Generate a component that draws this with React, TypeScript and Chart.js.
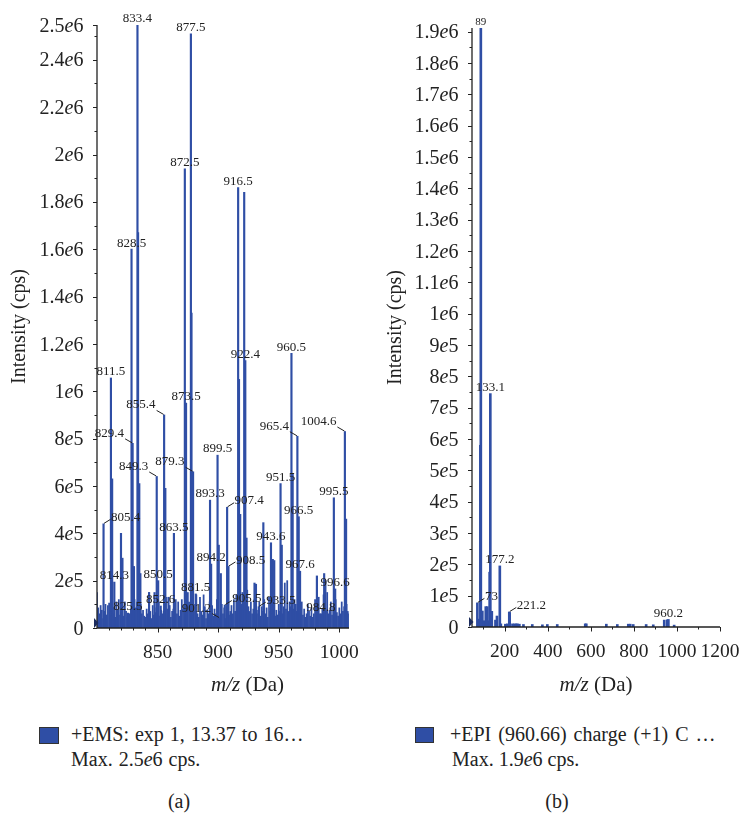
import React, { useEffect, useRef } from 'react';
import { Chart, registerables } from 'chart.js';

Chart.register(...registerables);

const SERIF = '"Liberation Serif", "Times New Roman", serif';
const BAR_COLOR = '#2f4ea5';
const INK = '#222222';

// ---------- Panel (a): +EMS spectrum ----------
// background signal, one value per m/z unit from 800 to 1008, in thousands of cps
const emsNoiseStartMz = 800;
const emsNoiseK = [
  150, 85, 60, 95, 75, 40, 70, 100, 55, 95,
  105, 70, 50, 60, 85, 45, 110, 75, 120, 55,
  65, 90, 50, 110, 70, 45, 60, 60, 80, 70,
  90, 120, 85, 110, 95, 140, 100, 60, 75, 50,
  45, 80, 60, 150, 70, 40, 95, 55, 65, 85,
  60, 110, 50, 75, 60, 70, 90, 130, 80, 60,
  95, 45, 70, 80, 55, 120, 60, 110, 50, 75,
  120, 80, 100, 130, 90, 150, 110, 95, 120, 80,
  100, 70, 140, 60, 45, 130, 70, 55, 140, 90,
  40, 75, 60, 110, 65, 95, 50, 80, 60, 120,
  70, 35, 50, 100, 60, 85, 40, 90, 110, 55,
  70, 95, 60, 120, 70, 140, 110, 160, 130, 100,
  150, 120, 140, 110, 160, 90, 70, 110, 60, 80,
  120, 100, 60, 75, 110, 50, 90, 70, 120, 60,
  85, 45, 130, 70, 100, 60, 95, 50, 75, 55,
  100, 70, 120, 60, 90, 190, 80, 200, 70, 110,
  90, 140, 80, 120, 100, 70, 130, 90, 60, 110,
  55, 80, 45, 60, 100, 70, 50, 85, 45, 60,
  120, 90, 70, 130, 60, 55, 80, 140, 90, 70,
  150, 60, 75, 110, 55, 90, 80, 120, 65, 50,
  85, 60, 110, 70, 90, 80, 100, 70, 60,
];

// peaks: [m/z, intensity in thousands of cps]
const emsPeaks: [number, number][] = [
  [805.4, 440], [811.5, 1056], [812.5, 630], [814.3, 194], [819.8, 400], [821.0, 295],
  [825.5, 63], [828.5, 1600], [829.4, 780], [830.5, 260], [833.4, 2547], [833.9, 1670],
  [834.9, 610], [835.8, 230], [843.0, 150], [847.5, 150], [849.3, 640], [850.5, 200],
  [852.6, 93], [855.4, 900], [856.4, 590], [859.0, 130], [863.5, 400], [872.5, 1940],
  [873.5, 950], [877.5, 2510], [878.0, 1330], [879.3, 660], [881.5, 144], [893.3, 540],
  [894.2, 270], [899.5, 730], [900.5, 350], [901.2, 42], [902.2, 230], [905.5, 97],
  [907.4, 510], [908.5, 260], [916.5, 1860], [917.2, 1050], [918.2, 480], [921.5, 1840],
  [922.4, 1130], [923.4, 380], [930.0, 190], [931.2, 185], [933.5, 90], [937.3, 445],
  [943.6, 360], [945.1, 290], [946.3, 285], [951.5, 610], [952.5, 350], [960.5, 1160],
  [961.5, 650], [965.4, 810], [966.5, 470], [967.6, 240], [981.5, 220], [984.8, 60],
  [987.5, 230], [988.5, 200], [995.5, 550], [996.6, 165], [1004.6, 830], [1005.6, 460],
];

const emsPeakLabels = [
  '833.4', '877.5', '872.5', '916.5', '828.5', '922.4', '960.5', '811.5', '873.5', '855.4',
  '1004.6', '965.4', '829.4', '899.5', '849.3', '879.3', '951.5', '893.3', '995.5', '907.4',
  '966.5', '805.4', '863.5', '943.6', '894.2', '908.5', '967.6', '814.3', '850.5', '996.6',
  '881.5', '852.6', '905.5', '933.5', '825.5', '984.8', '901.2',
];

const emsXMin = 800;
const emsXMax = 1008;
const emsYMax = 2547000;
const emsYTickValues = [0, 2e5, 4e5, 6e5, 8e5, 1e6, 1.2e6, 1.4e6, 1.6e6, 1.8e6, 2e6, 2.2e6, 2.4e6, 2547000];
const emsYTickLabels = ['0', '2e5', '4e5', '6e5', '8e5', '1e6', '1.2e6', '1.4e6', '1.6e6', '1.8e6', '2e6', '2.2e6', '2.4e6', '2.5e6'];
const emsYMinorTicks = [1e5, 3e5, 5e5, 7e5, 9e5, 1.1e6, 1.3e6, 1.5e6, 1.7e6, 1.9e6, 2.1e6, 2.3e6, 2.5e6];
const emsXTickValues = [850, 900, 950, 1000];
const emsXTickLabels = ['850', '900', '950', '1000'];
const emsXMinorTicks = [810, 820, 830, 840, 860, 870, 880, 890, 910, 920, 930, 940, 960, 970, 980, 990];

// ---------- Panel (b): +EPI (960.66) spectrum ----------
// peaks: [m/z, intensity in cps]
const epiPeaks: [number, number][] = [
  [73, 77000], [80, 25000], [87, 580000], [89, 1912000], [96, 51000], [104, 20000],
  [112, 65000], [119, 65000], [127, 20000], [130, 175000], [133.1, 745000], [140, 50000],
  [157, 22000], [164, 35000], [177.2, 195000], [182, 10000], [203, 9000], [212, 10000],
  [221.2, 48000], [223, 46000], [236, 10000], [245, 10000], [253, 10000], [259, 10000],
  [268, 9000], [287, 8000], [328, 8000], [375, 7000], [398, 8000], [444, 8000],
  [574, 10000], [579, 10000], [672, 9000], [723, 8000], [774, 9000], [783, 9000],
  [797, 8000], [857, 8000], [890, 7000], [941, 22000], [955, 23000], [960.2, 24000],
  [987, 6000],
];

const epiPeakLabels = ['89', '133.1', '177.2', '73', '221.2', '960.2'];

const epiXMin = 48;
const epiXMax = 1200;
const epiYMax = 1912000;
const epiYTickValues = [
  0, 1e5, 2e5, 3e5, 4e5, 5e5, 6e5, 7e5, 8e5, 9e5,
  1e6, 1.1e6, 1.2e6, 1.3e6, 1.4e6, 1.5e6, 1.6e6, 1.7e6, 1.8e6, 1.9e6,
];
const epiYTickLabels = [
  '0', '1e5', '2e5', '3e5', '4e5', '5e5', '6e5', '7e5', '8e5', '9e5',
  '1e6', '1.1e6', '1.2e6', '1.3e6', '1.4e6', '1.5e6', '1.6e6', '1.7e6', '1.8e6', '1.9e6',
];
const epiYMinorTicks = [
  5e4, 1.5e5, 2.5e5, 3.5e5, 4.5e5, 5.5e5, 6.5e5, 7.5e5, 8.5e5, 9.5e5,
  1.05e6, 1.15e6, 1.25e6, 1.35e6, 1.45e6, 1.55e6, 1.65e6, 1.75e6, 1.85e6,
];
const epiXTickValues = [200, 400, 600, 800, 1000, 1200];
const epiXTickLabels = ['200', '400', '600', '800', '1000', '1200'];
const epiXMinorTicks = [100, 300, 500, 700, 900, 1100];

// ---------- label placement styles ----------
type LabelStyle = { side?: 'L' | 'R'; size?: number };
const emsLabelStyle: Record<string, LabelStyle> = {
  '829.4': { side: 'L' }, '849.3': { side: 'L' }, '855.4': { side: 'L' }, '879.3': { side: 'L' },
  '965.4': { side: 'L' }, '1004.6': { side: 'L' }, '901.2': { side: 'L' },
  '805.4': { side: 'R' }, '907.4': { side: 'R' }, '908.5': { side: 'R' }, '905.5': { side: 'R' },
  '933.5': { side: 'R' },
};
const epiLabelStyle: Record<string, LabelStyle> = {
  '89': { size: 11 }, '73': { side: 'R' }, '221.2': { side: 'R' },
};

type Parts = [string, boolean][];

function splitE(label: string): Parts {
  const i = label.indexOf('e');
  if (i < 0) return [[label, false]];
  return [[label.slice(0, i), false], ['e', true], [label.slice(i + 1), false]];
}

function drawParts(ctx: CanvasRenderingContext2D, parts: Parts, x: number, y: number, align: 'left' | 'center' | 'right', size: number) {
  const widths = parts.map(([t, it]) => {
    ctx.font = `${it ? 'italic ' : ''}${size}px ${SERIF}`;
    return ctx.measureText(t).width;
  });
  const total = widths.reduce((a, b) => a + b, 0);
  let cx = align === 'right' ? x - total : align === 'center' ? x - total / 2 : x;
  ctx.textAlign = 'left';
  parts.forEach(([t, it], i) => {
    ctx.font = `${it ? 'italic ' : ''}${size}px ${SERIF}`;
    ctx.fillText(t, cx, y);
    cx += widths[i];
  });
}

type PanelCfg = {
  noise?: { x: number; y: number }[];
  peaks: { x: number; y: number }[];
  peakList: [number, number][];
  peakScale: number;
  labels: string[];
  labelStyle: Record<string, LabelStyle>;
  xMin: number; xMax: number; yMax: number;
  yTicks: number[]; yLabels: string[]; yMinor: number[];
  xTicks: number[]; xLabels: string[]; xMinor: number[];
  padding: { left: number; right: number; top: number; bottom: number };
  width: number; height: number; pageLeft: number;
  yTitleX: number; xTitleX: number; xTitleY: number;
  peakThickness: number;
};

function makeAxisPlugin(cfg: PanelCfg) {
  return {
    id: 'spectrumAxes',
    afterDraw(chart: any) {
      const ctx: CanvasRenderingContext2D = chart.ctx;
      const xs = chart.scales.x;
      const ys = chart.scales.y;
      const { left, right, top, bottom } = chart.chartArea;
      ctx.save();
      ctx.fillStyle = INK;
      ctx.strokeStyle = INK;

      // axis lines
      ctx.lineWidth = 1.3;
      ctx.beginPath();
      ctx.moveTo(left, top);
      ctx.lineTo(left, bottom);
      ctx.lineTo(right, bottom);
      ctx.stroke();

      // y ticks
      ctx.lineWidth = 1;
      ctx.beginPath();
      cfg.yTicks.forEach((v) => {
        const y = Math.round(ys.getPixelForValue(v)) + 0.5;
        ctx.moveTo(left - 4, y);
        ctx.lineTo(left, y);
      });
      cfg.yMinor.forEach((v) => {
        if (v > cfg.yMax) return;
        const y = Math.round(ys.getPixelForValue(v)) + 0.5;
        ctx.moveTo(left - 2.5, y);
        ctx.lineTo(left, y);
      });
      // x ticks
      cfg.xTicks.forEach((v) => {
        const x = Math.round(xs.getPixelForValue(v)) + 0.5;
        ctx.moveTo(x, bottom);
        ctx.lineTo(x, bottom + 4.5);
      });
      cfg.xMinor.forEach((v) => {
        const x = Math.round(xs.getPixelForValue(v)) + 0.5;
        ctx.moveTo(x, bottom);
        ctx.lineTo(x, bottom + 2.5);
      });
      ctx.stroke();

      // zero marker
      ctx.fillStyle = '#1c2c5e';
      ctx.beginPath();
      ctx.moveTo(left - 3, bottom - 10);
      ctx.lineTo(left - 3, bottom);
      ctx.lineTo(left + 1.5, bottom - 5);
      ctx.closePath();
      ctx.fill();
      ctx.fillStyle = INK;

      // y tick labels
      ctx.textBaseline = 'alphabetic';
      cfg.yTicks.forEach((v, i) => {
        const y = ys.getPixelForValue(v);
        drawParts(ctx, splitE(cfg.yLabels[i]), left - 13.5, y + 6.6, 'right', 20);
      });
      // x tick labels
      cfg.xTicks.forEach((v, i) => {
        const x = xs.getPixelForValue(v);
        drawParts(ctx, [[cfg.xLabels[i], false]], x, bottom + 29.5, 'center', 19.5);
      });

      // axis titles
      ctx.textBaseline = 'middle';
      drawParts(ctx, [['m/z', true], [' (Da)', false]], cfg.xTitleX, cfg.xTitleY, 'center', 21);
      ctx.save();
      ctx.translate(cfg.yTitleX, (top + bottom) / 2);
      ctx.rotate(-Math.PI / 2);
      ctx.font = `20px ${SERIF}`;
      ctx.textAlign = 'center';
      ctx.fillText('Intensity (cps)', 0, 0);
      ctx.restore();

      // peak labels
      ctx.textBaseline = 'alphabetic';
      ctx.lineWidth = 1;
      cfg.labels.forEach((text) => {
        const mz = parseFloat(text);
        const pk = cfg.peakList.find((p) => Math.abs(p[0] - mz) < 1e-6);
        if (!pk) return;
        const px = xs.getPixelForValue(pk[0]);
        const py = ys.getPixelForValue(pk[1] * cfg.peakScale);
        const st = cfg.labelStyle[text] || {};
        const size = st.size || 13;
        ctx.font = `${size}px ${SERIF}`;
        if (st.side === 'L') {
          ctx.beginPath();
          ctx.moveTo(px - 0.5, py - 0.5);
          ctx.lineTo(px - 7.5, py - 4.5);
          ctx.stroke();
          ctx.textAlign = 'right';
          ctx.fillText(text, px - 8.5, py - 6.5);
        } else if (st.side === 'R') {
          ctx.beginPath();
          ctx.moveTo(px + 0.5, py - 0.5);
          ctx.lineTo(px + 7, py - 4.5);
          ctx.stroke();
          ctx.textAlign = 'left';
          ctx.fillText(text, px + 7.5, py - 2.8);
        } else {
          ctx.textAlign = 'center';
          ctx.fillText(text, px, py - 2.7);
        }
      });
      ctx.restore();
    },
  };
}

function SpectrumPanel({ cfg }: { cfg: PanelCfg }) {
  const ref = useRef<HTMLCanvasElement | null>(null);
  useEffect(() => {
    if (!ref.current) return;
    const datasets: any[] = [];
    if (cfg.noise) {
      datasets.push({ data: cfg.noise, backgroundColor: BAR_COLOR, barThickness: 1.1, grouped: false });
    }
    datasets.push({ data: cfg.peaks, backgroundColor: BAR_COLOR, barThickness: cfg.peakThickness, grouped: false });
    const chart = new Chart(ref.current, {
      type: 'bar',
      data: { datasets },
      options: {
        responsive: false,
        animation: false,
        devicePixelRatio: 1,
        events: [],
        layout: { padding: cfg.padding },
        plugins: { legend: { display: false }, tooltip: { enabled: false } },
        scales: {
          x: { type: 'linear', min: cfg.xMin, max: cfg.xMax, offset: false, display: false },
          y: { type: 'linear', min: 0, max: cfg.yMax, display: false },
        },
      } as any,
      plugins: [makeAxisPlugin(cfg)],
    });
    return () => chart.destroy();
  }, [cfg]);
  return (
    <canvas
      ref={ref}
      width={cfg.width}
      height={cfg.height}
      style={{ position: 'absolute', left: cfg.pageLeft, top: 0, width: cfg.width, height: cfg.height }}
    />
  );
}

const emsCfg: PanelCfg = {
  noise: emsNoiseK.map((k, i) => ({ x: emsNoiseStartMz + i, y: k * 1000 })),
  peaks: emsPeaks.map(([mz, k]) => ({ x: mz, y: k * 1000 })),
  peakList: emsPeaks,
  peakScale: 1000,
  labels: emsPeakLabels,
  labelStyle: emsLabelStyle,
  xMin: emsXMin, xMax: emsXMax, yMax: emsYMax,
  yTicks: emsYTickValues, yLabels: emsYTickLabels, yMinor: emsYMinorTicks,
  xTicks: emsXTickValues, xLabels: emsXTickLabels, xMinor: emsXMinorTicks,
  padding: { left: 97, right: 21, top: 25, bottom: 72 },
  width: 370, height: 700, pageLeft: 0,
  yTitleX: 20, xTitleX: 247.5, xTitleY: 685,
  peakThickness: 1.5,
};

const epiCfg: PanelCfg = {
  peaks: epiPeaks.map(([mz, v]) => ({ x: mz, y: v })),
  peakList: epiPeaks,
  peakScale: 1,
  labels: epiPeakLabels,
  labelStyle: epiLabelStyle,
  xMin: epiXMin, xMax: epiXMax, yMax: epiYMax,
  yTicks: epiYTickValues, yLabels: epiYTickLabels, yMinor: epiYMinorTicks,
  xTicks: epiXTickValues, xLabels: epiXTickLabels, xMinor: epiXMinorTicks,
  padding: { left: 102, right: 21, top: 28, bottom: 73 },
  width: 371, height: 700, pageLeft: 370,
  yTitleX: 26, xTitleX: 226, xTitleY: 685,
  peakThickness: 2,
};

const legendText: React.CSSProperties = {
  position: 'absolute', fontSize: 20, lineHeight: '25px', whiteSpace: 'nowrap', color: INK,
};

export default function App() {
  return (
    <div style={{ position: 'absolute', left: 0, top: 0, width: 741, height: 814, background: '#fff', fontFamily: SERIF, overflow: 'hidden' }}>
      <SpectrumPanel cfg={emsCfg} />
      <SpectrumPanel cfg={epiCfg} />

      <div style={{ position: 'absolute', left: 39, top: 727, width: 18, height: 15, background: BAR_COLOR, border: '1px solid #333' }} />
      <div style={{ ...legendText, left: 71, top: 722, wordSpacing: 1 }}>
        +EMS: exp 1, 13.37 to 16…<br />Max. 2.5<i>e</i>6 cps.
      </div>

      <div style={{ position: 'absolute', left: 415, top: 727, width: 17, height: 14, background: BAR_COLOR, border: '1px solid #333' }} />
      <div style={{ ...legendText, left: 450, top: 722 }}>
        <span style={{ wordSpacing: 2 }}>+EPI (960.66) charge (+1) C …</span><br />
        <span style={{ marginLeft: 2 }}>Max. 1.9<i>e</i>6 cps.</span>
      </div>

      <div style={{ ...legendText, left: 129, width: 100, textAlign: 'center', top: 789 }}>(a)</div>
      <div style={{ ...legendText, left: 507, width: 100, textAlign: 'center', top: 789 }}>(b)</div>
    </div>
  );
}
